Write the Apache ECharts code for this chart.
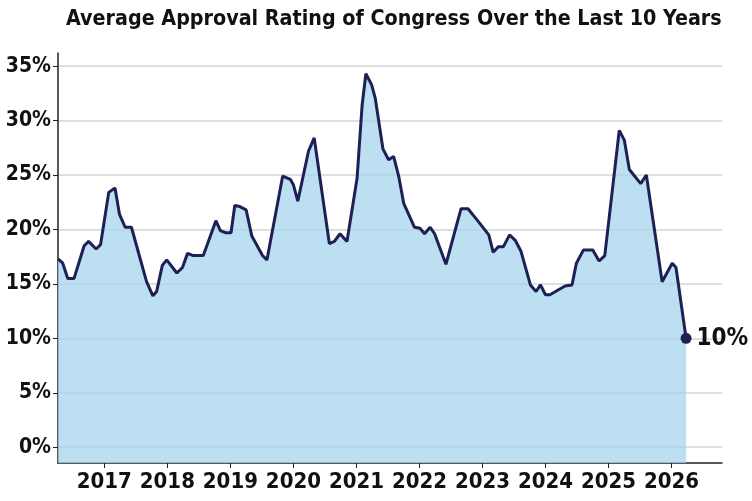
<!DOCTYPE html>
<html>
<head>
<meta charset="utf-8">
<script src="https://cdn.jsdelivr.net/npm/echarts@6/dist/echarts.min.js"></script>
<style>
  html, body { margin: 0; padding: 0; background: #fff; }
  #main { width: 752px; height: 501px; }
</style>
</head>
<body>
<div id="main"></div>
<script>
const dates = [
  2016.265, 2016.34, 2016.42, 2016.52, 2016.68, 2016.75, 2016.87, 2016.94,
  2017.07, 2017.17, 2017.24, 2017.33, 2017.43, 2017.67, 2017.77, 2017.83, 2017.92, 2017.99,
  2018.15, 2018.24, 2018.32, 2018.41, 2018.57, 2018.77, 2018.84, 2018.92,
  2019.01, 2019.07, 2019.15, 2019.25, 2019.34, 2019.51, 2019.58, 2019.83, 2019.95,
  2020.00, 2020.07, 2020.24, 2020.33, 2020.57, 2020.65, 2020.74, 2020.85,
  2021.01, 2021.09, 2021.15, 2021.24, 2021.30, 2021.42, 2021.51, 2021.59, 2021.67, 2021.75, 2021.92,
  2022.01, 2022.08, 2022.17, 2022.24, 2022.42, 2022.66, 2022.77, 2022.91,
  2023.10, 2023.17, 2023.25, 2023.33, 2023.43, 2023.52, 2023.61, 2023.76, 2023.85, 2023.92,
  2024.00, 2024.07, 2024.31, 2024.42, 2024.49, 2024.60, 2024.75, 2024.85, 2024.94,
  2025.17, 2025.25, 2025.33, 2025.51, 2025.60, 2025.85,
  2026.01, 2026.07, 2026.23
];
const approval = [
  17.3, 16.9, 15.5, 15.5, 18.5, 18.9, 18.2, 18.6,
  23.4, 23.8, 21.4, 20.2, 20.2, 15.2, 13.9, 14.3, 16.7, 17.2,
  16.0, 16.5, 17.8, 17.6, 17.6, 20.8, 19.9, 19.7,
  19.7, 22.2, 22.1, 21.8, 19.4, 17.6, 17.2, 24.9, 24.6,
  24.1, 22.6, 27.2, 28.4, 18.7, 18.9, 19.6, 18.9,
  24.7, 31.4, 34.3, 33.3, 32.0, 27.4, 26.4, 26.7, 24.9, 22.4, 20.2,
  20.1, 19.6, 20.2, 19.6, 16.8, 21.9, 21.9, 20.9,
  19.5, 17.9, 18.4, 18.4, 19.5, 19.0, 18.0, 14.9, 14.3, 14.9,
  14.0, 14.0, 14.8, 14.9, 16.9, 18.1, 18.1, 17.1, 17.6,
  29.1, 28.2, 25.5, 24.2, 25.0, 15.2,
  16.9, 16.5, 10.0
];
const yearTicks = [2017, 2018, 2019, 2020, 2021, 2022, 2023, 2024, 2025, 2026];

const font = '"Liberation Sans Narrow", "DejaVu Sans Condensed", sans-serif';
const navy = '#1d1f55';

const points = dates.map((d, i) => [d, approval[i]]);
const last = points[points.length - 1];

const chart = echarts.init(document.getElementById('main'), null, {renderer: 'canvas'});

const option = {
  animation: false,
  backgroundColor: '#fff',
  title: {
    text: 'Average Approval Rating of Congress Over the Last 10 Years',
    left: 61,
    top: 4,
    textStyle: {fontFamily: font, fontWeight: 'bold', fontSize: 21.3, color: '#111'}
  },
  grid: {left: 58, right: 30, top: 53, bottom: 38},
  xAxis: {
    type: 'value',
    min: 2016.265,
    max: 2026.8,
    splitNumber: 10,
    axisLine: {onZero: false, lineStyle: {color: '#222', width: 1.5}},
    axisTick: {show: true, length: 5, lineStyle: {color: '#222'}, customValues: yearTicks},
    splitLine: {show: false},
    axisLabel: {
      customValues: yearTicks,
      margin: 8,
      fontFamily: font, fontWeight: 'bold', fontSize: 22, color: '#111',
      formatter: v => String(Math.round(v))
    }
  },
  yAxis: {
    type: 'value',
    min: -1.45,
    max: 36.2,
    splitNumber: 7,
    axisLine: {show: true, lineStyle: {color: '#222', width: 1.5}},
    axisTick: {show: true, length: 5, lineStyle: {color: '#222'}},
    splitLine: {show: true, showMinLine: false, showMaxLine: false, lineStyle: {color: '#d4d4d4', width: 1.5}},
    axisLabel: {
      showMinLabel: false,
      showMaxLabel: false,
      margin: 7,
      fontFamily: font, fontWeight: 'bold', fontSize: 21, color: '#111',
      formatter: v => v + '%'
    }
  },
  series: [
    {
      type: 'line',
      data: points,
      showSymbol: false,
      lineStyle: {color: navy, width: 3},
      areaStyle: {origin: 'start', color: '#a6d4ee', opacity: 0.75},
      z: 2
    },
    {
      type: 'scatter',
      data: [last],
      symbolSize: 11,
      itemStyle: {color: navy, opacity: 1},
      label: {
        show: true,
        position: 'right',
        distance: 5,
        formatter: p => p.value[1] + '%',
        fontFamily: font, fontWeight: 'bold', fontSize: 24, color: '#111'
      },
      z: 3
    }
  ]
};

chart.setOption(option);
</script>
</body>
</html>
